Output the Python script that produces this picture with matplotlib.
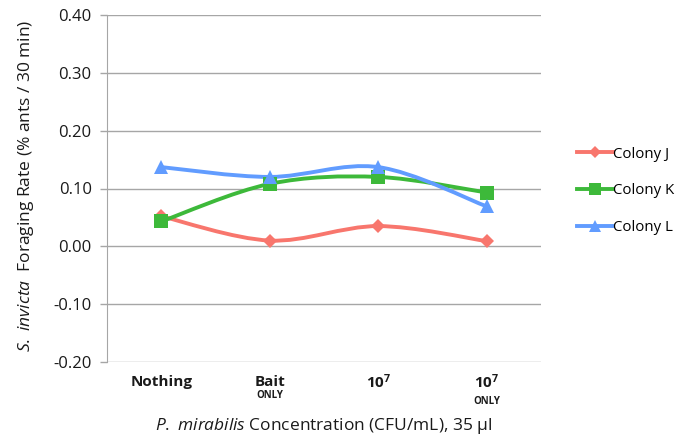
import matplotlib
matplotlib.use("Agg")
import matplotlib.pyplot as plt
from matplotlib.path import Path
from matplotlib.patches import PathPatch
from matplotlib.lines import Line2D
import matplotlib.transforms as mtransforms
import numpy as np

plt.rcParams['font.family'] = ['Open Sans', 'DejaVu Sans']
plt.rcParams['mathtext.fontset'] = 'custom'
plt.rcParams['mathtext.rm'] = 'Open Sans'
plt.rcParams['mathtext.it'] = 'Open Sans:italic'
plt.rcParams['mathtext.bf'] = 'Open Sans:bold'

# data
categories = ["Nothing", "Bait", r"$\mathbf{10^7}$", r"$\mathbf{10^7}$"]
sublabels = ["", "ONLY", "", "ONLY"]
colony_j = [0.052, 0.010, 0.035, 0.009]
colony_k = [0.043, 0.108, 0.120, 0.093]
colony_l = [0.137, 0.120, 0.137, 0.069]
series_names = ["Colony J", "Colony K", "Colony L"]
yticks = [-0.20, -0.10, 0.00, 0.10, 0.20, 0.30, 0.40]

colors = ["#f8766d", "#3db93a", "#619cff"]
markers = ["D", "s", "^"]
msizes = [7, 10, 10]


def smooth_path(xs, ys):
    # Excel-style smoothed line: cubic Bezier through the points
    pts = np.column_stack([xs, ys]).astype(float)
    n = len(pts)
    verts = [pts[0]]
    codes = [Path.MOVETO]
    for i in range(n - 1):
        p0 = pts[i - 1] if i > 0 else pts[i]
        p1 = pts[i]
        p2 = pts[i + 1]
        p3 = pts[i + 2] if i + 2 < n else pts[i + 1]
        c1 = p1 + (p2 - p0) / 6.0
        c2 = p2 - (p3 - p1) / 6.0
        verts += [c1, c2, p2]
        codes += [Path.CURVE4] * 3
    return Path(verts, codes)


fig = plt.figure(figsize=(6.78, 4.43), dpi=100)
ax = fig.add_axes([107 / 678, 1 - 362 / 443, 434 / 678, 347 / 443])

x = np.arange(len(categories))
for vals, c, m, ms, name in zip([colony_j, colony_k, colony_l], colors, markers, msizes, series_names):
    ax.add_patch(PathPatch(smooth_path(x, vals), facecolor="none", edgecolor=c,
                           lw=2.8, capstyle="round", zorder=3))
    ax.plot(x, vals, linestyle="none", marker=m, color=c, markersize=ms,
            markeredgewidth=0, zorder=4, clip_on=False)

ax.set_xlim(-0.5, len(categories) - 0.5)
ax.set_ylim(-0.20, 0.40)
ax.set_yticks(yticks)
ax.set_yticklabels(["%.2f" % v for v in yticks], fontsize=12)
ax.yaxis.grid(True, color="#a6a6a6", lw=1.0)
ax.set_axisbelow(True)
ax.set_xticks([])
for s in ["top", "right", "bottom"]:
    ax.spines[s].set_visible(False)
ax.spines["left"].set_color("#a6a6a6")
ax.tick_params(axis="y", color="#a6a6a6", length=5, width=1, pad=6, labelcolor="#1a1a1a")

# category labels
trans = mtransforms.blended_transform_factory(ax.transData, fig.transFigure)
for i, (lab, sub) in enumerate(zip(categories, sublabels)):
    ax.text(i, 1 - 382 / 443, lab, transform=trans, ha="center", va="center",
            fontsize=11, fontweight="bold", color="#1a1a1a")
    if sub:
        yy = 1 - (396 if i == 1 else 402) / 443
        ax.text(i, yy, sub, transform=trans, ha="center", va="center",
                fontsize=7, fontweight="bold", color="#1a1a1a")

fig.text(324 / 678, 1 - 426 / 443, r"$\it{P.\ mirabilis}$ Concentration (CFU/mL), 35 µl",
         ha="center", va="center", fontsize=12.5, color="#1a1a1a")
fig.text(26 / 678, 1 - 186 / 443, r"$\it{S.\ invicta}$  Foraging Rate (% ants / 30 min)",
         ha="center", va="center", rotation=90, fontsize=12.5, color="#1a1a1a")

handles = [Line2D([0], [0], color=c, lw=2.8, marker=m, markersize=ms * 0.9, markeredgewidth=0)
           for c, m, ms in zip(colors, markers, msizes)]
fig.legend(handles, series_names, loc="upper left", bbox_to_anchor=(563 / 678, 1 - 133 / 443),
           frameon=False, fontsize=10.8, handlelength=2.4, handletextpad=0.05, labelspacing=1.45)

fig.savefig("out.png", dpi=100)
